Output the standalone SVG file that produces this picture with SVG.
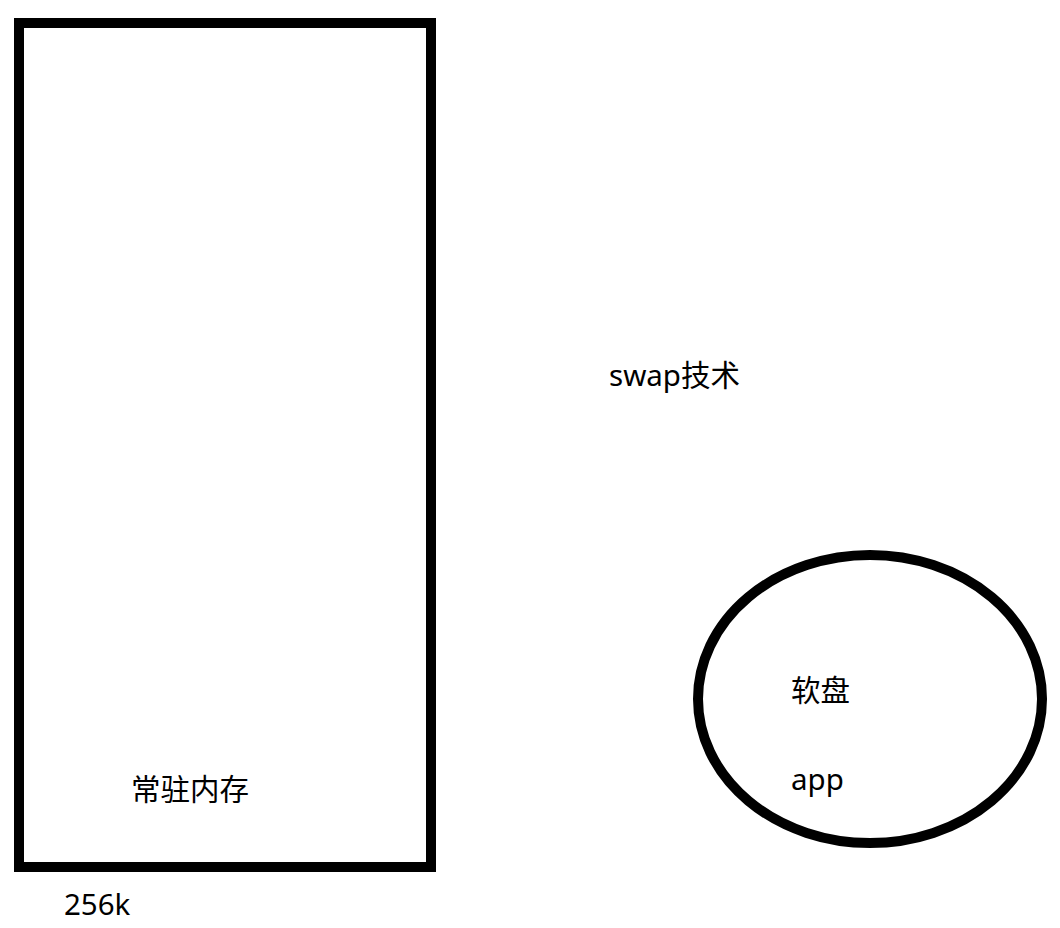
<svg xmlns="http://www.w3.org/2000/svg" width="1060" height="928" viewBox="0 0 1060 928">
<style>
.shape{fill:none;stroke:#000}
.t{font-family:"Noto Sans","Noto Sans CJK SC",sans-serif;font-size:29.5px;fill:#000}
</style>
<rect width="1060" height="928" fill="#fff"/>
<g id="memory">
<rect class="shape" x="19" y="23" width="412" height="844" stroke-width="10"/>
<text class="t" x="131" y="800">常驻内存</text>
</g>
<g id="size-label"><text class="t" x="64" y="915">256k</text></g>
<g id="swap-label"><text class="t" x="609" y="386">swap技术</text></g>
<g id="floppy">
<ellipse class="shape" cx="870" cy="699" rx="172" ry="144" stroke-width="10"/>
<text class="t" x="791" y="701">软盘</text>
<text class="t" x="791" y="790">app</text>
</g>
<g id="connectors"></g>
</svg>
